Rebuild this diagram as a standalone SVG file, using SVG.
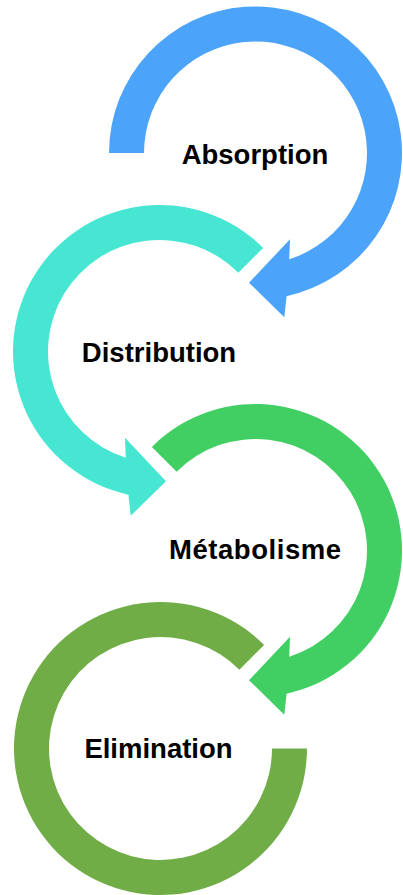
<svg xmlns="http://www.w3.org/2000/svg" xmlns:xlink="http://www.w3.org/1999/xlink" width="403" height="895" viewBox="0 0 403 895">
  <style>
    .lbl { font-family: "Liberation Sans", Arial, sans-serif; font-weight: bold; font-size: 27.5px; fill: #000000; text-anchor: middle; }
    .blue { fill: #4BA3FA; }
    .teal { fill: #46E6D2; }
    .green { fill: #41CE63; }
    .olive { fill: #70AD47; }
  </style>
  <defs>
    <path id="arrowA" d="M -146.5 0 A 146.5 146.5 0 1 1 31.09 143.16 L 28.8 164.3 L -6.5 129.7 L 34.5 86.3 L 33.72 106.28 A 111.5 111.5 0 1 0 -111.5 0 Z"/>
    <path id="arrowB" d="M -103.59 -103.59 A 146.5 146.5 0 1 1 31.09 143.16 L 28.8 164.3 L -6.5 129.7 L 34.5 86.3 L 33.72 106.28 A 111.5 111.5 0 1 0 -78.84 -78.84 Z"/>
  </defs>
  <g id="connectors"></g>
  <g id="absorption">
    <use xlink:href="#arrowA" class="blue" transform="translate(255.5,153)"/>
    <text class="lbl" x="255" y="164">Absorption</text>
  </g>
  <g id="distribution">
    <use xlink:href="#arrowB" class="teal" transform="translate(159.5,351.5) scale(-1,1)"/>
    <text class="lbl" x="159" y="362">Distribution</text>
  </g>
  <g id="metabolisme">
    <use xlink:href="#arrowB" class="green" transform="translate(255.5,550.5)"/>
    <text class="lbl" x="255" y="559" textLength="172" lengthAdjust="spacing">Métabolisme</text>
  </g>
  <g id="elimination">
    <path class="olive" transform="translate(160.5,748.5)" d="M 103.59 -103.59 A 146.5 146.5 0 1 0 146.5 0 L 111.5 0 A 111.5 111.5 0 1 1 78.84 -78.84 Z"/>
    <text class="lbl" x="158.5" y="758">Elimination</text>
  </g>
</svg>
